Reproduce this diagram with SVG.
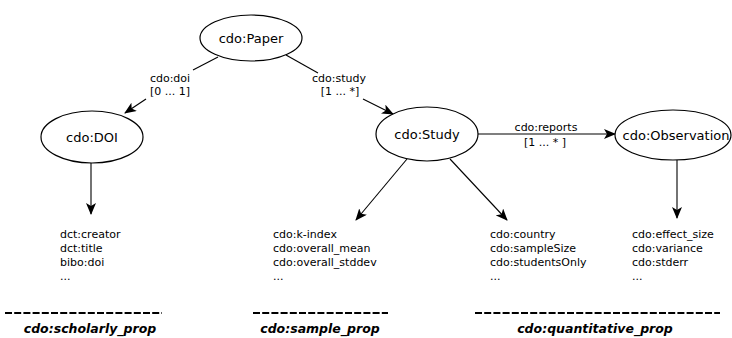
<svg xmlns="http://www.w3.org/2000/svg" width="732" height="338" viewBox="0 0 732 338">
<style>
.node{fill:#fff;stroke:#000;stroke-width:1.2}
.nl{font-family:"DejaVu Sans",sans-serif;font-size:13px;fill:#000;text-anchor:middle}
.el{font-family:"DejaVu Sans",sans-serif;font-size:11px;fill:#000;text-anchor:middle}
.pl{font-family:"DejaVu Sans",sans-serif;font-size:11px;fill:#000}
.cat{font-family:"DejaVu Sans",sans-serif;font-size:12.5px;font-weight:bold;font-style:italic;fill:#000;text-anchor:middle}
.edge{stroke:#000;stroke-width:1.1;fill:none}
.dash{stroke:#000;stroke-width:2;stroke-dasharray:7 2.2}
</style>
<defs>
<marker id="arr" viewBox="0 0 12 10" refX="11" refY="5" markerWidth="12" markerHeight="10" markerUnits="userSpaceOnUse" orient="auto">
<path d="M0,0 L12,5 L0,10 L3,5 z" fill="#000"/>
</marker>
</defs>
<g id="connectors">
<line class="edge" x1="218" y1="57" x2="193" y2="70"/>
<line class="edge" x1="146" y1="99" x2="125" y2="113" marker-end="url(#arr)"/>
<text class="el" x="170" y="82">cdo:doi</text>
<text class="el" x="170" y="95">[0 ... 1]</text>
<line class="edge" x1="286" y1="55" x2="318" y2="73"/>
<line class="edge" x1="363" y1="99" x2="393" y2="114" marker-end="url(#arr)"/>
<text class="el" x="339" y="82">cdo:study</text>
<text class="el" x="340" y="95">[1 ... *]</text>
<line class="edge" x1="478" y1="134" x2="615" y2="134" marker-end="url(#arr)"/>
<text class="el" x="546" y="131">cdo:reports</text>
<text class="el" x="545" y="146">[1 ... * ]</text>
<line class="edge" x1="91" y1="163" x2="91" y2="214" marker-end="url(#arr)"/>
<line class="edge" x1="407" y1="159" x2="356" y2="220" marker-end="url(#arr)"/>
<line class="edge" x1="450" y1="159" x2="507" y2="220" marker-end="url(#arr)"/>
<line class="edge" x1="677" y1="160" x2="677" y2="218" stroke="#444" marker-end="url(#arr)"/>
</g>
<g id="paper">
<ellipse class="node" cx="251" cy="38" rx="51" ry="23"/>
<text class="nl" x="251" y="43">cdo:Paper</text>
</g>
<g id="doi">
<ellipse class="node" cx="92" cy="137" rx="51" ry="26"/>
<text class="nl" x="92" y="142">cdo:DOI</text>
</g>
<g id="study">
<ellipse class="node" cx="427" cy="134" rx="51" ry="27"/>
<text class="nl" x="427" y="139">cdo:Study</text>
</g>
<g id="observation">
<ellipse class="node" cx="673" cy="135" rx="58" ry="25"/>
<text class="nl" x="676" y="140">cdo:Observation</text>
</g>
<g id="scholarly_props">
<text class="pl" x="60" y="237.5">dct:creator</text>
<text class="pl" x="60" y="251.5">dct:title</text>
<text class="pl" x="60" y="265.5">bibo:doi</text>
<text class="pl" x="60" y="279.5">...</text>
<line class="dash" x1="5" y1="313" x2="162" y2="313"/>
<text class="cat" x="90" y="333">cdo:scholarly_prop</text>
</g>
<g id="sample_props">
<text class="pl" x="273" y="237.5">cdo:k-index</text>
<text class="pl" x="273" y="251.5">cdo:overall_mean</text>
<text class="pl" x="273" y="265.5">cdo:overall_stddev</text>
<text class="pl" x="273" y="279.5">...</text>
<line class="dash" x1="253" y1="313" x2="388" y2="313"/>
<text class="cat" x="320" y="333">cdo:sample_prop</text>
</g>
<g id="study_props">
<text class="pl" x="490" y="237.5">cdo:country</text>
<text class="pl" x="490" y="251.5">cdo:sampleSize</text>
<text class="pl" x="490" y="265.5">cdo:studentsOnly</text>
<text class="pl" x="490" y="279.5">...</text>
</g>
<g id="quantitative_props">
<text class="pl" x="632" y="237.5">cdo:effect_size</text>
<text class="pl" x="632" y="251.5">cdo:variance</text>
<text class="pl" x="632" y="265.5">cdo:stderr</text>
<text class="pl" x="632" y="279.5">...</text>
<line class="dash" x1="475" y1="313" x2="720" y2="313"/>
<text class="cat" x="595" y="333">cdo:quantitative_prop</text>
</g>
</svg>
